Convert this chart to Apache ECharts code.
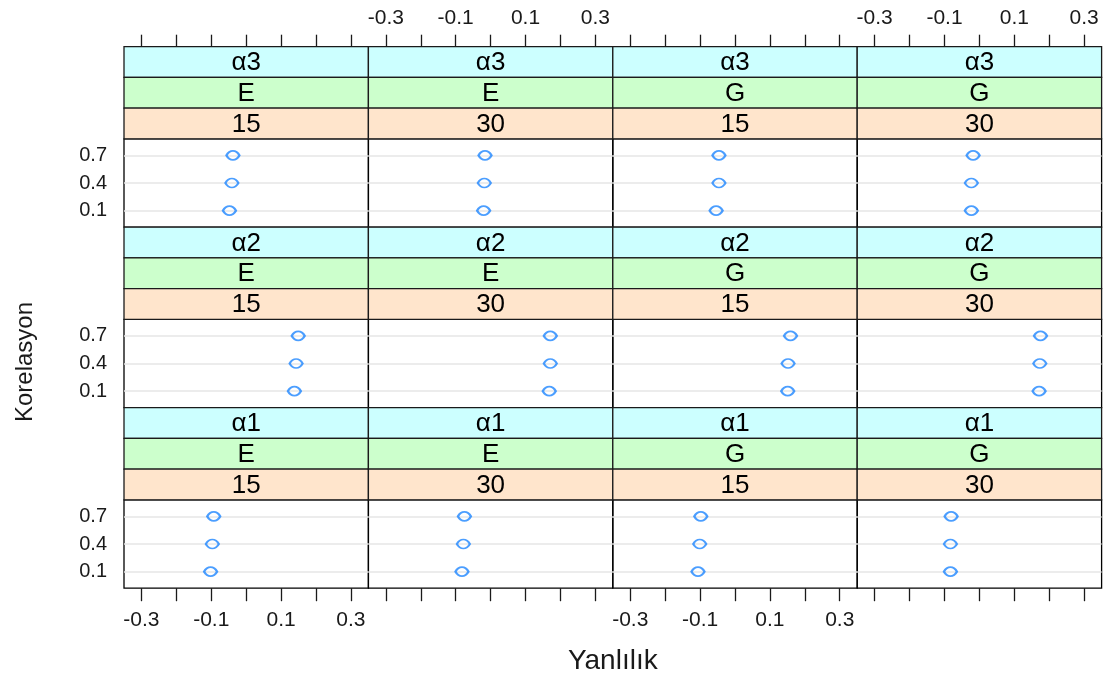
<!DOCTYPE html>
<html>
<head>
<meta charset="utf-8">
<script src="https://cdn.jsdelivr.net/npm/echarts@6/dist/echarts.min.js"></script>
<style>html,body{margin:0;padding:0;background:#fff;}#c{width:1110px;height:676px;}</style>
</head>
<body>
<div id="c"></div>
<script>
// ---- data ----
const alphaLevels = ['α3', 'α2', 'α1'];          // rows, top to bottom
const methodLevels = ['E', 'E', 'G', 'G'];        // columns
const sizeLevels = ['15', '30', '15', '30'];      // columns
const corrLabels = ['0.1', '0.4', '0.7'];         // y categories, bottom to top
const xTickValues = [-0.3, -0.2, -0.1, 0, 0.1, 0.2, 0.3];
const xTickLabels = ['-0.3', '-0.1', '0.1', '0.3'];
const xTitle = 'Yanlılık';
const yTitle = 'Korelasyon';

// bias values, per panel, ordered as corrLabels (0.1, 0.4, 0.7)
const a3_E15 = [-0.048, -0.041, -0.038];
const a3_E30 = [-0.020, -0.018, -0.016];
const a3_G15 = [-0.054, -0.046, -0.046];
const a3_G30 = [-0.023, -0.023, -0.018];
const a2_E15 = [0.138, 0.143, 0.149];
const a2_E30 = [0.168, 0.171, 0.171];
const a2_G15 = [0.151, 0.152, 0.159];
const a2_G30 = [0.171, 0.173, 0.175];
const a1_E15 = [-0.102, -0.097, -0.093];
const a1_E30 = [-0.082, -0.078, -0.075];
const a1_G15 = [-0.106, -0.101, -0.098];
const a1_G30 = [-0.083, -0.083, -0.081];
const panelData = [
  [a3_E15, a3_E30, a3_G15, a3_G30],
  [a2_E15, a2_E30, a2_G15, a2_G30],
  [a1_E15, a1_E30, a1_G15, a1_G30]
];

// ---- layout ----
const left0 = 124, colW = 244.4, top0 = 46.7, rowH = 180.5, stripH = 30.7;
const plotH = rowH - 3 * stripH;
const FONT = '"Liberation Sans", Arial, Helvetica, sans-serif';
const stripColors = ['#ccffff', '#ccffcc', '#ffe5cc'];
const markerPath = 'path://M0,5 C3,0 9,0 12,5 C9,10 3,10 0,5 Z';
const labelVals = xTickLabels.map(Number);
const fmtX = v => { const i = labelVals.findIndex(t => Math.abs(t - v) < 1e-9); return i >= 0 ? xTickLabels[i] : ''; };

const grid = [], xAxis = [], yAxis = [], series = [], graphic = [];

for (let r = 0; r < 3; r++) {
  for (let c = 0; c < 4; c++) {
    const idx = grid.length;
    const gx = left0 + c * colW;
    const gy = top0 + r * rowH + 3 * stripH;
    grid.push({left: gx, top: gy, width: colW, height: plotH, show: true,
      borderColor: '#000', borderWidth: 1.3, backgroundColor: 'transparent'});
    xAxis.push({type: 'value', gridIndex: idx, min: -0.35, max: 0.35, show: false});
    yAxis.push({type: 'value', gridIndex: idx, min: 0.4, max: 3.6,
      axisLine: {show: false}, axisTick: {show: false}, splitLine: {show: false},
      axisLabel: {show: c === 0, customValues: [1, 2, 3], margin: 17,
        formatter: v => corrLabels[Math.round(v) - 1] || '',
        color: '#1a1a1a', fontSize: 20, fontFamily: FONT}});
    series.push({type: 'scatter', xAxisIndex: idx, yAxisIndex: idx,
      data: panelData[r][c].map((v, i) => [v, i + 1]),
      symbol: markerPath, symbolSize: [13, 9], symbolKeepAspect: false,
      itemStyle: {color: 'rgba(255,255,255,0)', borderColor: '#1e86ff', borderWidth: 2},
      markLine: {silent: true, symbol: 'none', label: {show: false}, animation: false,
        lineStyle: {color: '#e6e6e6', width: 1.5, type: 'solid'},
        data: [{yAxis: 1}, {yAxis: 2}, {yAxis: 3}]},
      z: 5, silent: true});
    // strips
    const texts = [alphaLevels[r], methodLevels[c], sizeLevels[c]];
    for (let k = 0; k < 3; k++) {
      const sy = top0 + r * rowH + k * stripH;
      graphic.push({type: 'rect', shape: {x: gx, y: sy, width: colW, height: stripH},
        style: {fill: stripColors[k], stroke: '#1a1a1a', lineWidth: 1.3}, z: 10, silent: true});
      graphic.push({type: 'text', x: gx + colW / 2, y: sy + stripH / 2 + 1,
        style: {text: texts[k], fill: '#000', font: '26px ' + FONT, textAlign: 'center', textVerticalAlign: 'middle'},
        z: 11, silent: true});
    }
  }
}

// column axis grids: bottom axis below the panels, top axis above the strips
for (let c = 0; c < 4; c++) {
  // bottom
  let idx = grid.length;
  grid.push({left: left0 + c * colW, top: top0, width: colW, height: 3 * rowH, show: false});
  xAxis.push({type: 'value', gridIndex: idx, min: -0.35, max: 0.35, position: 'bottom',
    axisLine: {show: false}, splitLine: {show: false},
    axisTick: {show: true, customValues: xTickValues, length: 13, lineStyle: {color: '#1a1a1a', width: 1.3}},
    axisLabel: {show: c % 2 === 0, customValues: labelVals, margin: 22, formatter: fmtX,
      color: '#1a1a1a', fontSize: 21, fontFamily: FONT}});
  yAxis.push({type: 'value', gridIndex: idx, show: false, min: 0, max: 1});
  // top: small grid just above the strips, axis at its bottom with ticks/labels pointing up
  idx = grid.length;
  grid.push({left: left0 + c * colW, top: top0 - 45, width: colW, height: 45, show: false});
  xAxis.push({type: 'value', gridIndex: idx, min: -0.35, max: 0.35, position: 'bottom',
    axisLine: {show: false}, splitLine: {show: false},
    axisTick: {show: true, inside: true, customValues: xTickValues, length: 12, lineStyle: {color: '#1a1a1a', width: 1.3}},
    axisLabel: {show: c % 2 === 1, inside: true, customValues: labelVals, margin: 18, formatter: fmtX,
      color: '#1a1a1a', fontSize: 21, fontFamily: FONT}});
  yAxis.push({type: 'value', gridIndex: idx, show: false, min: 0, max: 1});
}

graphic.push({type: 'text', x: left0 + 2 * colW, y: 661,
  style: {text: xTitle, fill: '#1a1a1a', font: '28px ' + FONT, textAlign: 'center', textVerticalAlign: 'middle'}, silent: true});
graphic.push({type: 'text', x: 25, y: 362, rotation: Math.PI / 2,
  style: {text: yTitle, fill: '#1a1a1a', font: '24px ' + FONT, textAlign: 'center', textVerticalAlign: 'middle'}, silent: true});

const chart = echarts.init(document.getElementById('c'), null, {renderer: 'canvas'});
chart.setOption({animation: false, backgroundColor: '#fff', grid, xAxis, yAxis, series, graphic});
</script>
</body>
</html>
